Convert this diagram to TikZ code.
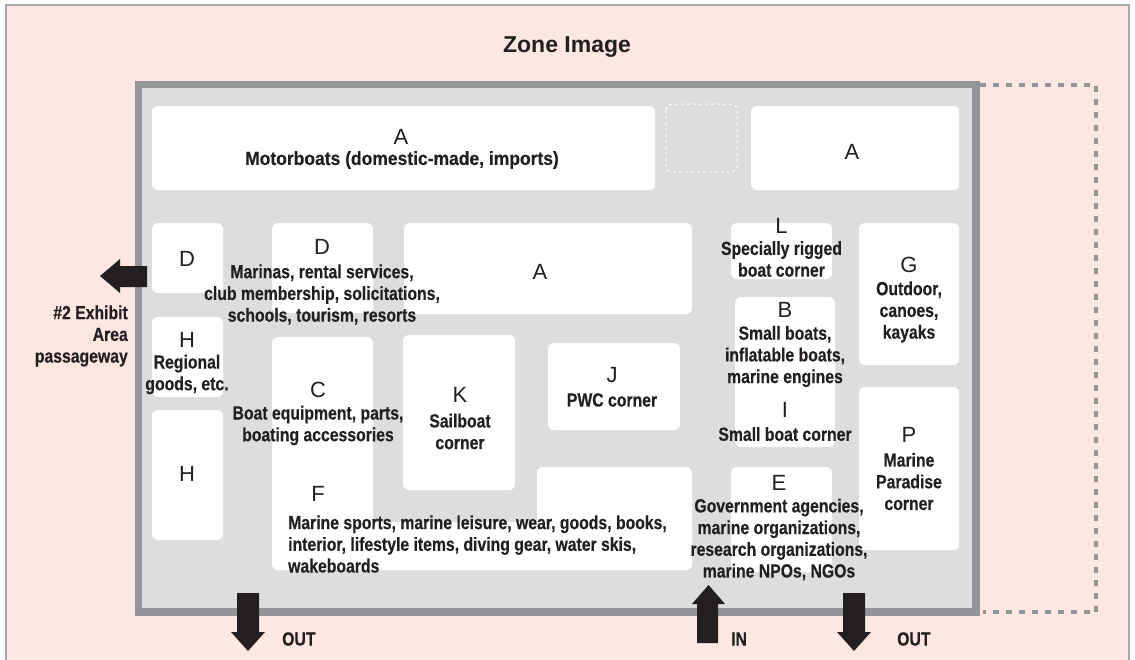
\documentclass[tikz,border=0pt]{standalone}
\usepackage{fontspec}
\setmainfont{Liberation Sans}
\newfontfamily\condfont[FakeStretch=0.83,FakeBold=0.3]{Liberation Sans}
\newfontfamily\condwidefont[FakeStretch=0.92,FakeBold=0.3]{Liberation Sans}
\definecolor{pinkbg}{HTML}{FDE7E2}
\definecolor{frame}{HTML}{A7A9AC}
\definecolor{hallborder}{HTML}{939598}
\definecolor{hallfill}{HTML}{DCDDDE}
\definecolor{ink}{HTML}{231F20}
\tikzset{
  room/.style={fill=white, rounded corners=6pt},
  letter/.style={text=ink, font=\fontsize{22}{24}\selectfont, inner sep=0pt},
  desc/.style={text=ink, font=\condfont\bfseries\fontsize{19}{21.7}\selectfont, align=center, inner sep=0pt},
  arrowshape/.style={fill=ink},
}
\begin{document}
\begin{tikzpicture}[x=1pt,y=-1pt]
\useasboundingbox (0,0) rectangle (1135,659);
\begin{scope}
\clip (0,0) rectangle (1135,659);
\fill[white] (0,0) rectangle (1135,659);
\draw[frame, fill=pinkbg, line width=2pt] (6,4.5) rectangle (1129,700);
\end{scope}
% title
\node[text=ink, font=\bfseries\fontsize{23}{26}\selectfont, inner sep=0pt] (title) at (567,47) {Zone Image};
% hall
\fill[hallborder] (135,81) rectangle (980,616);
\fill[hallfill] (142,88) rectangle (972,608);
\draw[hallborder, line width=4pt, dash pattern=on 6pt off 7pt] (980,84.5) -- (1096,84.5) -- (1096,612) -- (983,612);
% rooms
\fill[room] (152,106) rectangle (655,190);
\draw[white, line width=1pt, dash pattern=on 3pt off 3pt, rounded corners=6pt] (666,104) rectangle (737,172);
\fill[room] (751,106) rectangle (959,190);
\fill[room] (152,223) rectangle (223,293);
\fill[room] (272,223) rectangle (373,313);
\fill[room] (404,223) rectangle (692,314);
\fill[room] (731,223) rectangle (832,279);
\fill[room] (859,223) rectangle (959,365);
\fill[room] (152,317) rectangle (223,397);
\fill[room] (152,410) rectangle (223,540);
\fill[room] (272,337) rectangle (373,570);
\fill[room] (272,522) rectangle (692,570);
\fill[room] (537,467) rectangle (692,570);
\fill[room] (403,335) rectangle (515,490);
\fill[room] (548,343) rectangle (680,430);
\fill[room] (735,297) rectangle (835,447);
\fill[room] (731,467) rectangle (832,572);
\fill[room] (859,387) rectangle (959,550);
% arrows
\fill[arrowshape] (147,266) -- (120,266) -- (120,259) -- (100,276) -- (120,293) -- (120,287) -- (147,287) -- cycle;
\fill[arrowshape] (237,593) -- (259,593) -- (259,632) -- (265,632) -- (248,651) -- (231,632) -- (237,632) -- cycle;
\fill[arrowshape] (697,643) -- (697,604) -- (692,604) -- (708.5,585) -- (725,604) -- (718,604) -- (718,643) -- cycle;
\fill[arrowshape] (843,593) -- (865,593) -- (865,632) -- (871,632) -- (854,651) -- (837,632) -- (843,632) -- cycle;
% labels
\node[letter] (a1) at (401,137) {A};
\node[desc, font=\condwidefont\bfseries\fontsize{19}{21.7}\selectfont] (a1t) at (402,160) {Motorboats (domestic-made, imports)};
\node[letter] (a2) at (852,152) {A};
\node[letter] (d1) at (187,259) {D};
\node[letter] (d2) at (322,247) {D};
\node[desc] (d2t) at (322,294.5) {Marinas, rental services,\\club membership, solicitations,\\schools, tourism, resorts};
\node[letter] (a3) at (540,272) {A};
\node[letter] (l) at (781.5,226) {L};
\node[desc] (lt) at (781.5,259) {Specially rigged\\boat corner};
\node[letter] (g) at (909,265) {G};
\node[desc] (gt) at (909,312) {Outdoor,\\canoes,\\kayaks};
\node[letter] (h1) at (187,340) {H};
\node[desc] (h1t) at (187,374.5) {Regional\\goods, etc.};
\node[letter] (h2) at (187,474) {H};
\node[letter] (c) at (318,390) {C};
\node[desc] (ct) at (318,425.5) {Boat equipment, parts,\\boating accessories};
\node[letter] (k) at (460,395) {K};
\node[desc] (kt) at (460,431.5) {Sailboat\\corner};
\node[letter] (j) at (612,375) {J};
\node[desc] (jt) at (612,400) {PWC corner};
\node[letter] (b) at (785,310) {B};
\node[desc] (bt) at (785,356.5) {Small boats,\\inflatable boats,\\marine engines};
\node[letter] (i) at (785,410) {I};
\node[desc] (it) at (785,434) {Small boat corner};
\node[letter] (e) at (779,483) {E};
\node[desc] (et) at (779,539.5) {Government agencies,\\marine organizations,\\research organizations,\\marine NPOs, NGOs};
\node[letter] (p) at (909,435) {P};
\node[desc] (pt) at (909,481.5) {Marine\\Paradise\\corner};
\node[letter] (f) at (318,494) {F};
\node[desc, align=left, anchor=west] (ft) at (288,544) {Marine sports, marine leisure, wear, goods, books,\\interior, lifestyle items, diving gear, water skis,\\wakeboards};
\node[desc, align=right, anchor=east] (pass) at (128,336) {\#2 Exhibit\\Area\\passageway};
\node[desc, anchor=west] (out1) at (282,639) {OUT};
\node[desc, anchor=west] (in) at (731,639) {IN};
\node[desc, anchor=west] (out2) at (897,639) {OUT};
\end{tikzpicture}
\end{document}
